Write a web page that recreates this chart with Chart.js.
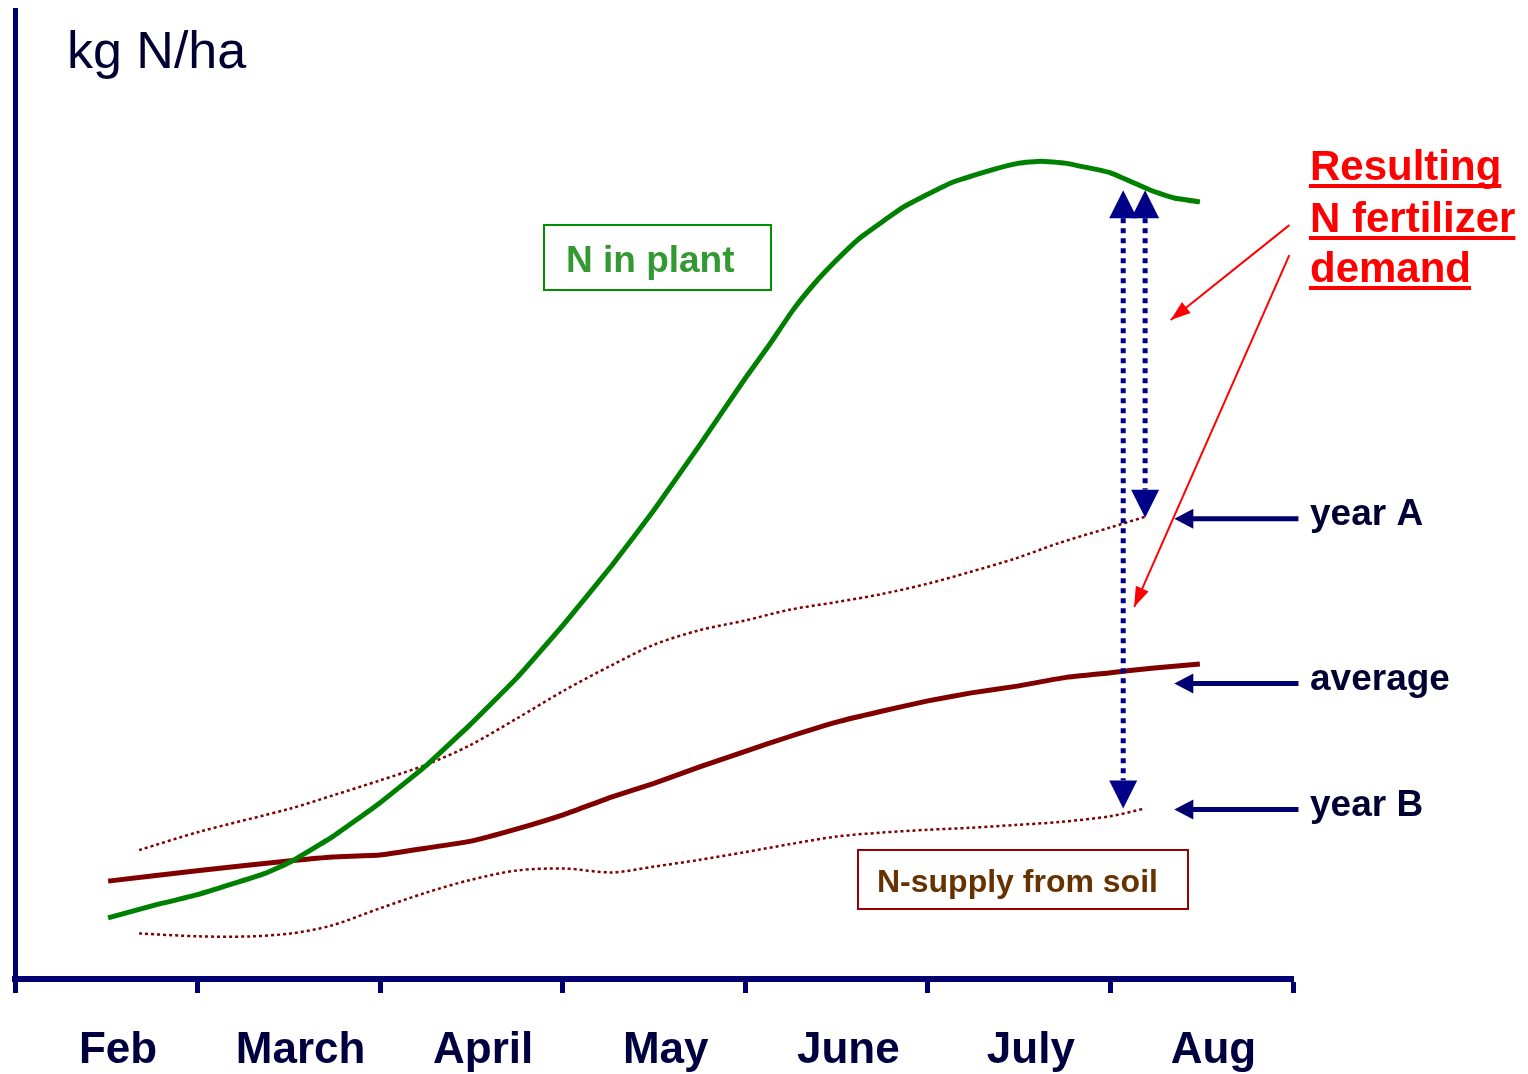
<!DOCTYPE html>
<html>
<head>
<meta charset="utf-8">
<script src="https://cdn.jsdelivr.net/npm/chart.js@4/dist/chart.umd.min.js"></script>
<style>
  html, body { margin: 0; padding: 0; background: #fff; }
  #wrap { width: 1528px; height: 1074px; }
</style>
</head>
<body>
<div id="wrap"><canvas id="chart" width="1528" height="1074"></canvas></div>
<script>
// months between the tick marks
const months = ["Feb", "March", "April", "May", "June", "July", "Aug"];

// N in plant (green)
const plantX = [0.51, 0.74, 1.00, 1.37, 1.51, 1.74, 2.00, 2.25, 2.49, 2.75, 3.01, 3.27, 3.50, 3.75, 4.00, 4.13, 4.26, 4.38, 4.50, 4.63, 4.87, 5.12, 5.37, 5.50, 5.62, 5.75, 6.00, 6.22, 6.35, 6.49];
const plantY = [6.3, 7.5, 8.7, 10.9, 12.1, 14.7, 18.2, 22.0, 26.2, 31.1, 36.7, 42.7, 48.4, 55.1, 62.0, 65.4, 69.0, 71.8, 74.2, 76.5, 79.7, 82.1, 83.6, 84.2, 84.4, 84.2, 83.2, 81.4, 80.6, 80.2];

// N-supply from soil, average year
const soilAvgX = [0.51, 1.01, 1.51, 1.74, 2.00, 2.25, 2.49, 2.75, 3.01, 3.27, 3.50, 3.75, 4.00, 4.24, 4.50, 4.74, 5.00, 5.23, 5.48, 5.75, 6.00, 6.24, 6.49];
const soilAvgY = [10.1, 11.2, 12.2, 12.6, 12.8, 13.5, 14.2, 15.5, 17.0, 18.8, 20.2, 21.9, 23.5, 25.0, 26.5, 27.6, 28.7, 29.5, 30.2, 31.1, 31.6, 32.1, 32.5];

// N-supply from soil, year A and year B
const yearAX = [0.68, 1.01, 1.51, 1.75, 2.00, 2.25, 2.49, 2.75, 3.01, 3.27, 3.50, 3.75, 4.00, 4.24, 4.50, 4.74, 5.00, 5.23, 5.48, 5.72, 6.00, 6.19];
const yearAY = [13.3, 15.2, 17.6, 19.0, 20.5, 22.1, 24.1, 26.9, 29.8, 32.4, 34.5, 36.0, 37.0, 38.1, 38.9, 39.7, 40.8, 42.0, 43.4, 45.0, 46.6, 47.7];
const yearBX = [0.68, 1.01, 1.29, 1.51, 1.73, 2.00, 2.25, 2.49, 2.75, 3.01, 3.27, 3.50, 3.75, 4.00, 4.24, 4.50, 4.74, 5.00, 5.23, 5.48, 5.72, 6.00, 6.19];
const yearBY = [4.7, 4.4, 4.4, 4.7, 5.5, 7.3, 8.9, 10.2, 11.2, 11.4, 11.0, 11.6, 12.3, 13.1, 13.9, 14.7, 15.1, 15.4, 15.6, 15.9, 16.2, 16.8, 17.6];

// annotation anchors (data units)
const demandArrowX = [6.07, 6.19];
const demandArrowTop = [81.4, 81.4];
const demandArrowBottom = [17.6, 47.6];
const yearLabels = ["year A", "average", "year B"];
const yearLabelY = [47.5, 30.5, 17.5];

const NAVY = "#000070";
const TEXT = "#000033";

function pts(xs, ys) {
  return xs.map((x, i) => ({ x: x, y: ys[i] }));
}

function head(ctx, tx, ty, fx, fy, len, hw, color) {
  const a = Math.atan2(ty - fy, tx - fx);
  ctx.save();
  ctx.fillStyle = color;
  ctx.translate(tx, ty);
  ctx.rotate(a);
  ctx.beginPath();
  ctx.moveTo(0, 0);
  ctx.lineTo(-len, -hw);
  ctx.lineTo(-len, hw);
  ctx.closePath();
  ctx.fill();
  ctx.restore();
}

// arrows, labels and boxes drawn on top of the chart
const annotations = {
  id: "annotations",
  afterDraw(chart) {
    const ctx = chart.ctx;
    const xs = chart.scales.x;
    const ys = chart.scales.y;
    const px = (v) => xs.getPixelForValue(v);
    const py = (v) => ys.getPixelForValue(v);

    ctx.save();

    // axis title
    ctx.fillStyle = TEXT;
    ctx.font = "52px 'Liberation Sans', Arial, sans-serif";
    ctx.textBaseline = "alphabetic";
    ctx.fillText("kg N/ha", 67, 68);

    // dotted double arrows for fertilizer demand
    demandArrowX.forEach((x, i) => {
      const X = px(x), T = py(demandArrowTop[i]), B = py(demandArrowBottom[i]);
      ctx.strokeStyle = "#000088";
      ctx.lineWidth = 5;
      ctx.setLineDash([5, 5]);
      ctx.beginPath();
      ctx.moveTo(X, T + 28);
      ctx.lineTo(X, B - 28);
      ctx.stroke();
      ctx.setLineDash([]);
      head(ctx, X, T, X, T + 40, 28, 14, "#000088");
      head(ctx, X, B, X, B - 40, 28, 14, "#000088");
    });

    // label arrows
    const xFrom = px(7.03), xTo = px(6.35);
    ctx.font = "bold 37px 'Liberation Sans', Arial, sans-serif";
    yearLabels.forEach((lab, i) => {
      const Y = py(yearLabelY[i]);
      ctx.strokeStyle = NAVY;
      ctx.lineWidth = 5;
      ctx.beginPath();
      ctx.moveTo(xFrom, Y);
      ctx.lineTo(xTo + 14, Y);
      ctx.stroke();
      head(ctx, xTo, Y, xFrom, Y, 19, 10, NAVY);
      ctx.fillStyle = TEXT;
      ctx.textBaseline = "middle";
      ctx.fillText(lab, 1310, Y - 4);
    });

    // red arrows to demand
    const red = "#ff0000";
    [[6.98, 77.8, 6.33, 68.0], [6.98, 74.7, 6.13, 38.4]].forEach((a) => {
      const x1 = px(a[0]), y1 = py(a[1]), x2 = px(a[2]), y2 = py(a[3]);
      ctx.strokeStyle = red;
      ctx.lineWidth = 2;
      ctx.beginPath();
      ctx.moveTo(x1, y1);
      ctx.lineTo(x2, y2);
      ctx.stroke();
      head(ctx, x2, y2, x1, y1, 20, 7, red);
    });

    // resulting N fertilizer demand text
    ctx.fillStyle = red;
    ctx.textBaseline = "alphabetic";
    ctx.font = "bold 42px 'Liberation Sans', Arial, sans-serif";
    [["Resulting", 180], ["N fertilizer", 232], ["demand", 282]].forEach((l) => {
      ctx.fillText(l[0], 1310, l[1]);
      const w = ctx.measureText(l[0]).width;
      ctx.fillRect(1309, l[1] + 4, w + 1, 4);
    });

    // N in plant box
    ctx.strokeStyle = "#009000";
    ctx.lineWidth = 2;
    ctx.strokeRect(544, 225, 227, 65);
    ctx.fillStyle = "#339933";
    ctx.font = "bold 37px 'Liberation Sans', Arial, sans-serif";
    ctx.fillText("N in plant", 566, 272);

    // N-supply from soil box
    ctx.strokeStyle = "#990000";
    ctx.strokeRect(858, 850, 330, 59);
    ctx.fillStyle = "#663300";
    ctx.font = "bold 32px 'Liberation Sans', Arial, sans-serif";
    ctx.fillText("N-supply from soil", 877, 892);

    ctx.restore();
  },
};

new Chart(document.getElementById("chart").getContext("2d"), {
  type: "line",
  data: {
    datasets: [
      {
        label: "N in plant",
        data: pts(plantX, plantY),
        borderColor: "#008000",
        borderWidth: 5,
        pointRadius: 0,
        tension: 0.12,
      },
      {
        label: "average",
        data: pts(soilAvgX, soilAvgY),
        borderColor: "#800000",
        borderWidth: 5,
        pointRadius: 0,
        tension: 0.12,
      },
      {
        label: "year A",
        data: pts(yearAX, yearAY),
        borderColor: "#800000",
        borderWidth: 2.5,
        borderDash: [3, 3],
        pointRadius: 0,
        tension: 0.3,
      },
      {
        label: "year B",
        data: pts(yearBX, yearBY),
        borderColor: "#800000",
        borderWidth: 2.5,
        borderDash: [3, 3],
        pointRadius: 0,
        tension: 0.3,
      },
    ],
  },
  options: {
    responsive: false,
    animation: false,
    layout: { padding: { left: 15, top: 10, right: 235, bottom: 0 } },
    plugins: { legend: { display: false }, tooltip: { enabled: false } },
    scales: {
      x: {
        type: "linear",
        min: 0,
        max: 7,
        border: { color: NAVY, width: 6 },
        grid: {
          drawOnChartArea: false,
          drawTicks: true,
          tickLength: 14,
          tickWidth: 5,
          tickColor: NAVY,
        },
        ticks: {
          stepSize: 1,
          autoSkip: false,
          maxRotation: 0,
          labelOffset: 103,
          padding: 31,
          color: "#000040",
          font: { family: "'Liberation Sans', Arial, sans-serif", size: 44, weight: "bold" },
          callback: (v) => months[v] || "",
        },
        afterFit(scale) {
          scale.height = 95;
          scale.paddingLeft = 0;
          scale.paddingRight = 0;
        },
      },
      y: {
        min: 0,
        max: 100,
        border: { color: NAVY, width: 5 },
        grid: { display: false },
        ticks: { display: false },
        afterFit(scale) {
          scale.width = 0;
        },
      },
    },
  },
  plugins: [annotations],
});
</script>
</body>
</html>
